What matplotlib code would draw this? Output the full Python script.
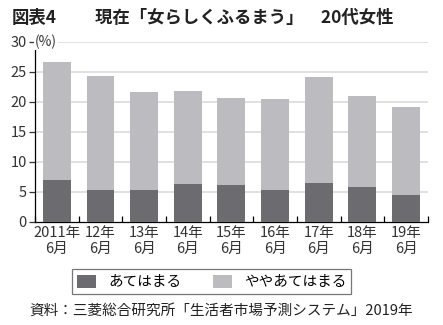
import matplotlib
matplotlib.use('Agg')
import matplotlib.pyplot as plt
import numpy as np

plt.rcParams['font.family'] = ['Noto Sans CJK JP', 'DejaVu Sans']

# 20代女性「女らしくふるまう」
years = ['2011年\n6月', '12年\n6月', '13年\n6月', '14年\n6月', '15年\n6月',
         '16年\n6月', '17年\n6月', '18年\n6月', '19年\n6月']
atehamaru = [7.0, 5.4, 5.4, 6.3, 6.2, 5.3, 6.5, 5.8, 4.5]
yaya = [19.7, 18.9, 16.3, 15.5, 14.5, 15.2, 17.7, 15.2, 14.7]

dark = '#6b6b70'
light = '#bcbcc0'

fig = plt.figure(figsize=(4.43, 3.25), dpi=100)
ax = fig.add_axes([0.079, 0.317, 0.887, 0.554])

x = np.arange(len(years))
ax.bar(x, atehamaru, width=0.64, color=dark, zorder=3, label='あてはまる')
ax.bar(x, yaya, width=0.64, bottom=atehamaru, color=light, zorder=3, label='ややあてはまる')

ax.set_xlim(-0.5, len(years) - 0.5)
ax.set_ylim(0, 30)
ax.set_yticks(range(0, 31, 5))
for v in range(5, 31, 5):
    ax.axhline(v, color='#dcdcdc', lw=1.2, zorder=1)

for s in ['top', 'right']:
    ax.spines[s].set_visible(False)
ax.spines['left'].set_linewidth(0.9)
ax.spines['bottom'].set_linewidth(0.9)
ax.spines['left'].set_bounds(0, 29.3)

ax.tick_params(axis='y', direction='out', length=4, width=0.9, labelsize=10.5,
               colors='#333333', pad=2)
ax.set_xticks(np.arange(-0.5, len(years)), minor=False)
ax.set_xticklabels([])
ax.tick_params(axis='x', direction='in', length=4, width=0.9)
ax.set_xticks(x, minor=True)
ax.set_xticklabels(years, minor=True, fontsize=10.5, linespacing=1.15)
ax.tick_params(axis='x', which='minor', length=0, pad=3, colors='#333333')

# 単位ラベル（上端のグリッドを隠す）
ax.text(0.0, 30, '(%)', fontsize=10, color='#333333', va='center', ha='left',
        transform=ax.get_yaxis_transform(), zorder=5,
        bbox=dict(facecolor='white', edgecolor='none', pad=0.5))

fig.text(0.027, 0.945, '図表4', fontsize=12.5, fontweight='bold', va='center', color='#222222')
fig.text(0.215, 0.945, '現在「女らしくふるまう」　20代女性', fontsize=12.5,
         fontweight='bold', va='center', color='#222222')

leg = fig.legend(loc='center', bbox_to_anchor=(0.478, 0.133), ncol=2, fontsize=10.5,
                 frameon=True, fancybox=False, edgecolor='#555555',
                 handlelength=1.3, handleheight=1.0, columnspacing=2.2,
                 borderpad=0.35)
leg.get_frame().set_linewidth(0.9)

fig.text(0.5, 0.045, '資料：三菱総合研究所「生活者市場予測システム」2019年',
         fontsize=10.5, ha='center', va='center', color='#222222')

fig.savefig('out.png', dpi=100, facecolor='white')
